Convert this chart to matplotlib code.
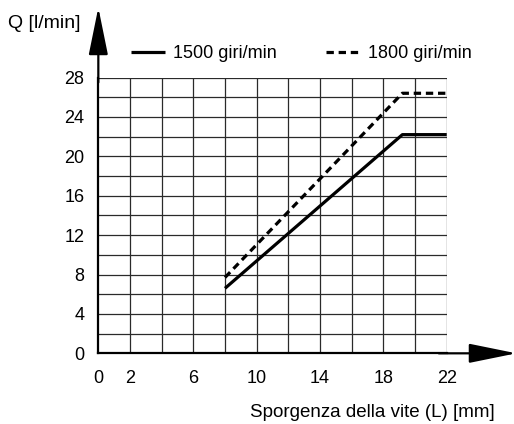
import matplotlib.pyplot as plt

plt.rcParams['font.family'] = ['Liberation Sans', 'DejaVu Sans']

# data
x_1500 = [8, 19.2, 22]
q_1500 = [6.6, 22.2, 22.2]
x_1800 = [8, 19.2, 22]
q_1800 = [7.7, 26.4, 26.4]

x_ticks = [0, 2, 6, 10, 14, 18, 22]
y_ticks = [0, 4, 8, 12, 16, 20, 24, 28]
x_grid = list(range(0, 23, 2))
y_grid = list(range(0, 29, 2))

fig = plt.figure(figsize=(5.14, 4.24), dpi=100)
ax = fig.add_axes([0.1913, 0.1667, 0.6778, 0.6505])
ax.set_xlim(0, 22)
ax.set_ylim(0, 28)

# grid
for gx in x_grid[1:]:
    ax.axvline(gx, color='#2a2a2a', lw=0.9, zorder=1)
for gy in y_grid[1:]:
    ax.axhline(gy, color='#2a2a2a', lw=0.9, zorder=1)

l1, = ax.plot(x_1500, q_1500, color='black', lw=2.3, solid_capstyle='butt', zorder=3)
l2, = ax.plot(x_1800, q_1800, color='black', lw=2.3, dashes=(2.3, 1.5), zorder=3)

for s in ['top', 'right']:
    ax.spines[s].set_visible(False)
for s in ['left', 'bottom']:
    ax.spines[s].set_linewidth(1.6)

ax.set_xticks(x_ticks)
ax.set_yticks(y_ticks)
ax.tick_params(length=0, labelsize=13)
ax.tick_params(axis='y', pad=10)
ax.tick_params(axis='x', pad=12)

# axis arrows
arrow_style = dict(arrowstyle='-|>,head_length=2.95,head_width=0.6',
                   mutation_scale=10, color='black', lw=1.6,
                   shrinkA=0, shrinkB=0)
ax.annotate('', xy=(26.4, 0), xytext=(21.5, 0), xycoords='data',
            annotation_clip=False, arrowprops=arrow_style)
ax.annotate('', xy=(0, 35.1), xytext=(0, 27.5), xycoords='data',
            annotation_clip=False, arrowprops=arrow_style)

fig.text(0.016, 0.945, 'Q [l/min]', fontsize=14, ha='left', va='center')
fig.text(0.963, 0.026, 'Sporgenza della vite (L) [mm]', fontsize=13.5,
         ha='right', va='center')

ax.legend([l1, l2], ['1500 giri/min', '1800 giri/min'], ncol=2,
          loc='center left', bbox_to_anchor=(0.072, 1.086), frameon=False,
          fontsize=13, handlelength=1.9, columnspacing=2.7,
          borderaxespad=0, handletextpad=0.45)

fig.savefig('out.png', dpi=100)
